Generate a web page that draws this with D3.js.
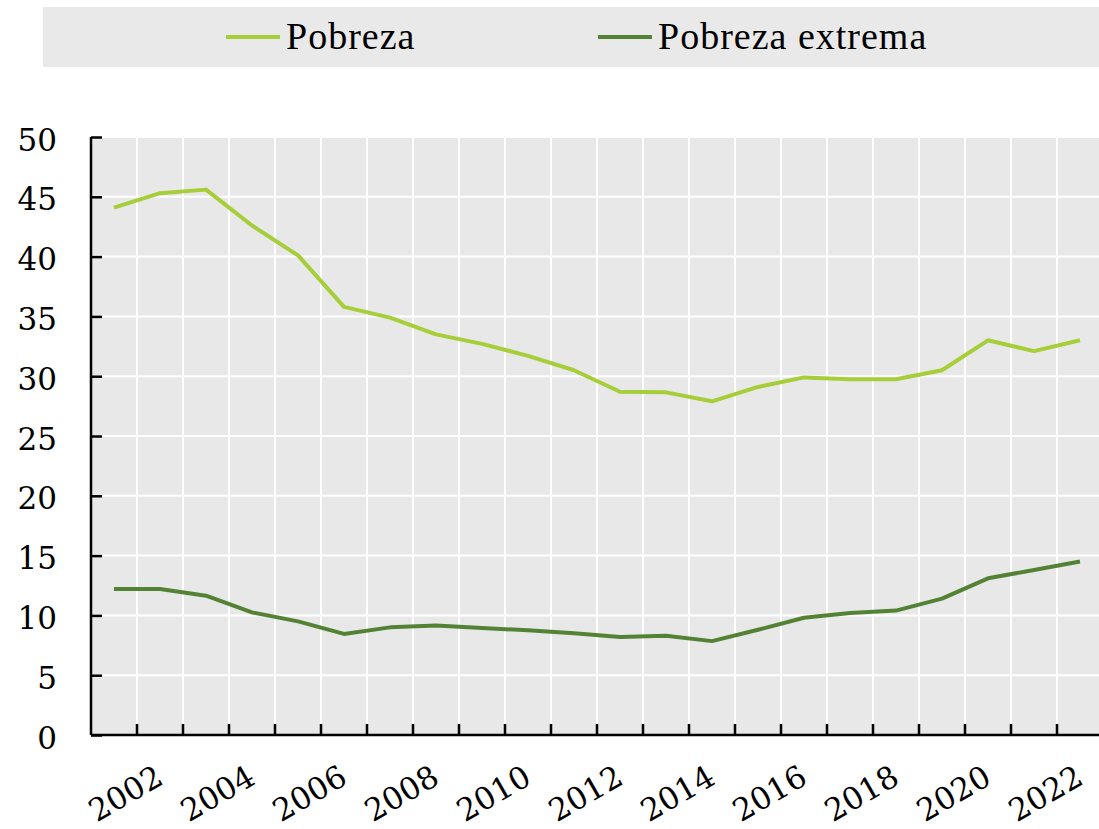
<!DOCTYPE html>
<html>
<head>
<meta charset="utf-8">
<script src="https://cdn.jsdelivr.net/npm/d3@7"></script>
<style>
  body { margin: 0; background: #fff; }
  .tick text { font-family: "DejaVu Serif", serif; font-size: 31px; fill: #000; }
  .xlabels text { font-family: "DejaVu Serif", serif; font-size: 31px; fill: #000; }
  .legendText { font-family: "Liberation Serif", serif; font-size: 38px; letter-spacing: 1px; }
</style>
</head>
<body>
<svg></svg>
<script>
// adatok
var years = [2001, 2002, 2003, 2004, 2005, 2006, 2007, 2008, 2009, 2010, 2011,
             2012, 2013, 2014, 2015, 2016, 2017, 2018, 2019, 2020, 2021, 2022];
var pobreza = [44.1, 45.3, 45.6, 42.6, 40.1, 35.8, 34.9, 33.5, 32.7, 31.7, 30.5,
               28.7, 28.65, 27.9, 29.1, 29.9, 29.75, 29.75, 30.5, 33.0, 32.1, 33.0];
var pobrezaExtrema = [12.2, 12.2, 11.65, 10.25, 9.5, 8.45, 9.0, 9.15, 8.95, 8.75, 8.5,
                      8.2, 8.3, 7.85, 8.8, 9.8, 10.2, 10.4, 11.4, 13.1, 13.8, 14.5];
var seriesNames = ["Pobreza", "Pobreza extrema"];
var yTicks = [0, 5, 10, 15, 20, 25, 30, 35, 40, 45, 50];
var xLabelYears = [2002, 2004, 2006, 2008, 2010, 2012, 2014, 2016, 2018, 2020, 2022];

var colors = ["#a6ce39", "#548235"];

var svgWidth = 1099, svgHeight = 829;
var plotLeft = 91, plotRight = 1103, plotTop = 137, plotBottom = 735;

var svg = d3.select('svg')
    .attr("width", svgWidth)
    .attr("height", svgHeight);

// legenda
svg.append("rect")
    .attr("x", 43).attr("y", 7)
    .attr("width", svgWidth - 43).attr("height", 60)
    .attr("fill", "#e9e9e9");

var legendX = [226, 598];
seriesNames.forEach(function(name, i) {
    svg.append("line")
        .attr("x1", legendX[i]).attr("x2", legendX[i] + 54)
        .attr("y1", 37).attr("y2", 37)
        .attr("stroke", colors[i])
        .attr("stroke-width", 4);
    svg.append("text")
        .attr("class", "legendText")
        .attr("x", legendX[i] + 60)
        .attr("y", 49)
        .text(name);
});

// skálák
var x = d3.scaleBand()
    .domain(years)
    .range([plotLeft, plotRight])
    .paddingInner(0).paddingOuter(0);

var y = d3.scaleLinear()
    .domain([0, 50])
    .range([plotBottom, plotTop]);

// háttér és rácsvonalak
svg.append("rect")
    .attr("x", plotLeft).attr("y", plotTop)
    .attr("width", svgWidth - plotLeft).attr("height", plotBottom - plotTop)
    .attr("fill", "#e8e8e8");

svg.append("g")
    .selectAll("line")
    .data(years.slice(1))
    .enter()
    .append("line")
    .attr("x1", function(d) { return x(d); })
    .attr("x2", function(d) { return x(d); })
    .attr("y1", plotTop).attr("y2", plotBottom)
    .attr("stroke", "#fff")
    .attr("stroke-width", 2);

svg.append("g")
    .selectAll("line")
    .data(yTicks.slice(1))
    .enter()
    .append("line")
    .attr("x1", plotLeft).attr("x2", svgWidth)
    .attr("y1", function(d) { return y(d); })
    .attr("y2", function(d) { return y(d); })
    .attr("stroke", "#fff")
    .attr("stroke-width", 2);

// tengelyek
var yAxis = svg.append("g")
    .attr("transform", "translate(" + plotLeft + ",0)")
    .call(d3.axisLeft(y).tickValues(yTicks).tickSize(-11).tickPadding(34).tickFormat(d3.format("d")));
yAxis.select(".domain").attr("stroke", "#000").attr("stroke-width", 2.5)
    .attr("d", "M0," + plotTop + "V" + plotBottom);
yAxis.selectAll(".tick line").attr("stroke", "#000").attr("stroke-width", 2.5);
yAxis.selectAll(".tick text").attr("dy", "0.42em");

var xAxis = svg.append("g")
    .attr("transform", "translate(0," + plotBottom + ")");
xAxis.append("line")
    .attr("x1", plotLeft).attr("x2", svgWidth)
    .attr("y1", 0).attr("y2", 0)
    .attr("stroke", "#000").attr("stroke-width", 2.5);
xAxis.selectAll(".xtick")
    .data(years.slice(1))
    .enter()
    .append("line")
    .attr("class", "xtick")
    .attr("x1", function(d) { return x(d); })
    .attr("x2", function(d) { return x(d); })
    .attr("y1", 0).attr("y2", -11)
    .attr("stroke", "#000").attr("stroke-width", 2.5);

// évszámok ferdén
svg.append("g")
    .attr("class", "xlabels")
    .selectAll("text")
    .data(xLabelYears)
    .enter()
    .append("text")
    .attr("transform", function(d) {
        var px = x(d) + x.bandwidth() / 2 + 5;
        return "translate(" + px + ",783) rotate(-30)";
    })
    .attr("text-anchor", "end")
    .text(function(d) { return d; });

// vonalak
var line = d3.line()
    .x(function(d, i) { return x(years[i]) + x.bandwidth() / 2; })
    .y(function(d) { return y(d); });

[pobreza, pobrezaExtrema].forEach(function(series, i) {
    svg.append("path")
        .datum(series)
        .attr("d", line)
        .attr("fill", "none")
        .attr("stroke", colors[i])
        .attr("stroke-width", 4)
        .attr("stroke-linejoin", "round");
});
</script>
</body>
</html>
